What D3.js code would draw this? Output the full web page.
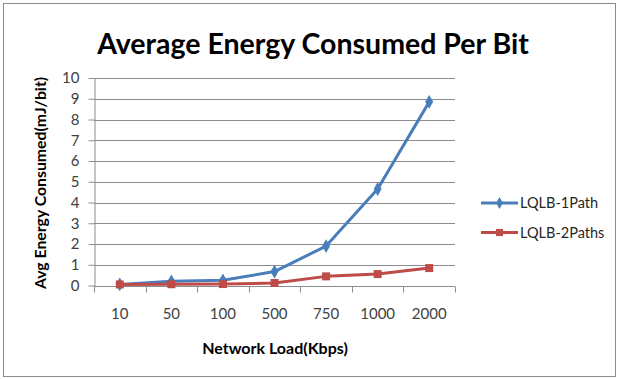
<!DOCTYPE html>
<html>
<head>
<meta charset="utf-8">
<script src="https://cdn.jsdelivr.net/npm/d3@7"></script>
<style>
  html, body { margin: 0; padding: 0; background: #fff; }
  svg { display: block; }
  text { font-family: Lato, "Open Sans", sans-serif; }
</style>
</head>
<body>
<svg id="chart" width="619" height="379"></svg>
<script>
// Network load categories (Kbps)
const loads = ["10", "50", "100", "500", "750", "1000", "2000"];
// Average energy consumed per bit (mJ/bit)
const onePath = [0.05, 0.2, 0.25, 0.67, 1.9, 4.65, 8.85];
const twoPaths = [0.05, 0.06, 0.07, 0.12, 0.44, 0.55, 0.84];
const yTicks = [0, 1, 2, 3, 4, 5, 6, 7, 8, 9, 10];
const seriesNames = ["LQLB-1Path", "LQLB-2Paths"];

const series = [
  { name: seriesNames[0], values: onePath, color: "#4a7ebb", marker: "diamond" },
  { name: seriesNames[1], values: twoPaths, color: "#be4b48", marker: "square" }
];

const svg = d3.select("#chart");
const W = 619, H = 379;
const plot = { left: 94, right: 455, top: 78, bottom: 285.5 };

// Outer frame
svg.append("rect")
  .attr("x", 3.5).attr("y", 3.5)
  .attr("width", W - 7).attr("height", H - 6)
  .attr("fill", "#fff").attr("stroke", "#8c8c8c").attr("stroke-width", 1);

const x = d3.scaleBand().domain(loads).range([plot.left, plot.right]).padding(0);
const y = d3.scaleLinear().domain([0, 10]).range([plot.bottom, plot.top]);

// Horizontal gridlines
svg.append("g")
  .selectAll("line")
  .data(yTicks.filter(d => d > 0))
  .join("line")
  .attr("x1", plot.left).attr("x2", plot.right)
  .attr("y1", d => Math.round(y(d)) + 0.5).attr("y2", d => Math.round(y(d)) + 0.5)
  .attr("stroke", "#8c8c8c").attr("stroke-width", 1);

// Y axis
const yAxis = svg.append("g")
  .attr("transform", `translate(${plot.left + 0.5},0)`)
  .call(d3.axisLeft(y).tickValues(yTicks).tickSize(6).tickPadding(9).tickSizeOuter(0));
yAxis.select(".domain").attr("stroke", "#8c8c8c");
yAxis.selectAll(".tick line").attr("stroke", "#8c8c8c");
yAxis.selectAll(".tick text")
  .attr("fill", "#404040").attr("font-size", 15)
  .style("font-family", "Lato, 'Open Sans', sans-serif");

// X axis with ticks at category boundaries
const xAxisG = svg.append("g")
  .attr("transform", `translate(0,${Math.round(plot.bottom) + 0.5})`);
xAxisG.append("line")
  .attr("x1", plot.left).attr("x2", plot.right)
  .attr("stroke", "#8c8c8c");
const boundaries = loads.map(d => x(d)).concat([x(loads[loads.length - 1]) + x.bandwidth()]);
xAxisG.selectAll("line.tk")
  .data(boundaries)
  .join("line")
  .attr("class", "tk")
  .attr("x1", d => Math.round(d) + 0.5).attr("x2", d => Math.round(d) + 0.5)
  .attr("y1", 0).attr("y2", 6)
  .attr("stroke", "#8c8c8c");
xAxisG.selectAll("text")
  .data(loads)
  .join("text")
  .attr("x", d => x(d) + x.bandwidth() / 2)
  .attr("y", 32)
  .attr("text-anchor", "middle")
  .attr("fill", "#404040")
  .attr("font-size", 15)
  .text(d => d);

// Lines and markers
const line = d3.line()
  .x((d, i) => x(loads[i]) + x.bandwidth() / 2)
  .y(d => y(d));

series.forEach(s => {
  svg.append("path")
    .datum(s.values)
    .attr("d", line)
    .attr("fill", "none")
    .attr("stroke", s.color)
    .attr("stroke-width", 3)
    .attr("stroke-linejoin", "round");
  const sym = s.marker === "diamond"
    ? d3.symbol().type(d3.symbolDiamond).size(55)
    : d3.symbol().type(d3.symbolSquare).size(64);
  svg.append("g")
    .selectAll("path")
    .data(s.values)
    .join("path")
    .attr("transform", (d, i) => `translate(${x(loads[i]) + x.bandwidth() / 2},${y(d)})`)
    .attr("d", sym)
    .attr("fill", s.color);
});

// Legend
const legend = svg.append("g");
series.forEach((s, i) => {
  const ly = 203 + i * 29.5;
  legend.append("line")
    .attr("x1", 481).attr("x2", 518)
    .attr("y1", ly).attr("y2", ly)
    .attr("stroke", s.color).attr("stroke-width", 3);
  const sym = s.marker === "diamond"
    ? d3.symbol().type(d3.symbolDiamond).size(40)
    : d3.symbol().type(d3.symbolSquare).size(50);
  legend.append("path")
    .attr("transform", `translate(499.5,${ly})`)
    .attr("d", sym)
    .attr("fill", s.color);
  legend.append("text")
    .attr("x", 520).attr("y", ly + 5)
    .attr("font-size", 14.5)
    .attr("fill", "#262626")
    .text(s.name);
});

// Title
svg.append("text")
  .attr("x", 313).attr("y", 54)
  .attr("text-anchor", "middle")
  .attr("font-size", 28.5)
  .attr("font-weight", "bold")
  .attr("fill", "#000")
  .text("Average Energy Consumed Per Bit");

// Axis titles
svg.append("text")
  .attr("x", 275).attr("y", 354)
  .attr("text-anchor", "middle")
  .attr("font-size", 16)
  .attr("font-weight", "bold")
  .attr("fill", "#000")
  .text("Network Load(Kbps)");

svg.append("text")
  .attr("transform", "translate(46,183) rotate(-90)")
  .attr("text-anchor", "middle")
  .attr("font-size", 15.8)
  .attr("font-weight", "bold")
  .attr("fill", "#000")
  .text("Avg Energy Consumed(mJ/bit)");
</script>
</body>
</html>
